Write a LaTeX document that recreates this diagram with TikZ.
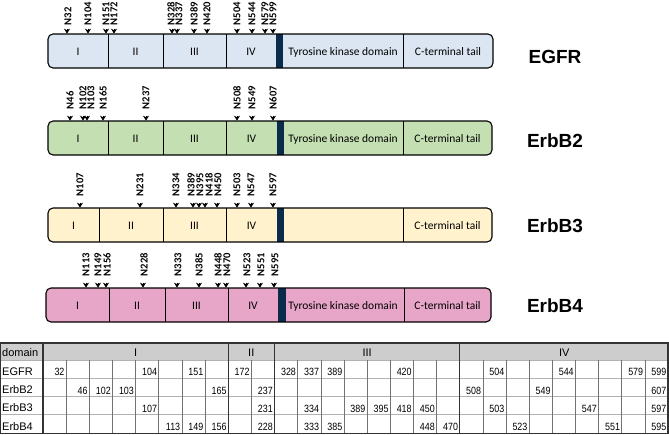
\documentclass[tikz,border=0pt]{standalone}
\usepackage{fontspec}
\setmainfont{Carlito}
\newfontfamily\arialfont{Liberation Sans}
\newfontfamily\narrowfont[FakeStretch=0.85]{Liberation Sans}
\usetikzlibrary{arrows.meta}

\definecolor{egfrblue}{HTML}{DCE6F2}
\definecolor{erbbtwo}{HTML}{C4DFB2}
\definecolor{erbbthree}{HTML}{FFF2CC}
\definecolor{erbbfour}{HTML}{E7A6C8}
\definecolor{tmnavy}{HTML}{0B2B4C}
\definecolor{headgray}{HTML}{CDCDCD}

\tikzset{
    domtext/.style={font=\fontsize{11.5}{12}\selectfont, inner sep=0pt, anchor=base},
    sitelabel/.style={font=\bfseries\fontsize{10.6}{10.6}\selectfont, rotate=90, anchor=west, inner sep=0pt},
    sitemark/.style={-{Stealth[length=5pt,width=6.2pt,inset=1.6pt]}, line width=0.9pt},
    protname/.style={font=\arialfont\bfseries\fontsize{19}{19}\selectfont, inner sep=0pt, anchor=base},
    tabtext/.style={font=\arialfont\fontsize{11}{11}\selectfont, inner sep=0pt},
    tabnum/.style={font=\narrowfont\fontsize{10.5}{10.5}\selectfont, inner sep=0pt, anchor=base east},
    cellline/.style={draw=black!55, line width=0.5pt},
    rowline/.style={draw=black!30, line width=0.9pt},
    edgeline/.style={draw=black!80, line width=1.3pt}
}

\begin{document}
\begin{tikzpicture}[x=1pt,y=-1pt]
    \useasboundingbox (0,0) rectangle (669,434);
    \def\cw{23.148}
    \foreach \nm/\col/\ty/\xa/\xb/\xc/\xd/\xe/\xf/\xg/\xh in {EGFR/egfrblue/34/48/108/163/226/276/283/403/493,
        ErbB2/erbbtwo/121/48/108/163/226/277/284/403/492, ErbB3/erbbthree/208/48/99/163/226/277/284/403/492,
        ErbB4/erbbfour/288/46/109/165/228/278/286/404/491}
    {
        \fill[\col, rounded corners=5pt] (\xa,\ty) rectangle (\xh,\ty+34);
        \fill[tmnavy] (\xe,\ty) rectangle (\xf,\ty+34);
        \foreach \xx in {\xb,\xc,\xd,\xg} { \draw[line width=0.9pt] (\xx,\ty) -- (\xx,\ty+34); }
        \draw[line width=1.1pt, rounded corners=5pt] (\xa,\ty) rectangle (\xh,\ty+34);
        \node[domtext] (\nm-I) at ({(\xa+\xb)/2},\ty+21) {I};
        \node[domtext] (\nm-II) at ({(\xb+\xc)/2},\ty+21) {II};
        \node[domtext] (\nm-III) at ({(\xc+\xd)/2},\ty+21) {III};
        \node[domtext] (\nm-IV) at ({(\xd+\xe)/2},\ty+21) {IV};
        \node[domtext] (\nm-tail) at ({(\xg+\xh)/2},\ty+21) {C-terminal tail};
    }
    \foreach \nm/\ty in {EGFR/34, ErbB2/121, ErbB4/288} { \node[domtext] (\nm-tk) at (343,\ty+21) {Tyrosine kinase domain}; }
    \foreach \nm/\by in {EGFR/63, ErbB2/147, ErbB3/232, ErbB4/312} { \node[protname] (\nm-name) at (555,\by) {\nm}; }

    \foreach \ax/\lx/\sn in {67/68/N32, 88/88/N104, 106/106/N151, 114/114/N172, 172/171/N328, 177/179/N337,
        194/194/N389, 207/207/N420, 237/237/N504, 252/252/N544, 265/265/N579, 273/273/N599}
    {
        \coordinate (egfr-\sn-a) at (\ax,28.5);
        \coordinate (egfr-\sn-b) at (\ax,33.6);
        \node[sitelabel] (egfr-\sn) at (\lx,25.5) {\sn};
        \draw[sitemark] (egfr-\sn-a) -- (egfr-\sn-b);
    }
    \foreach \ax/\lx/\sn in {70/70/N46, 83/83/N102, 87/91/N103, 103/103/N165, 146/146/N237, 237/237/N508,
        252/252/N549, 273/273/N607}
    {
        \coordinate (erbb2-\sn-a) at (\ax,115.5);
        \coordinate (erbb2-\sn-b) at (\ax,120.6);
        \node[sitelabel] (erbb2-\sn) at (\lx,109.5) {\sn};
        \draw[sitemark] (erbb2-\sn-a) -- (erbb2-\sn-b);
    }
    \foreach \ax/\lx/\sn in {80/80/N107, 140/140/N231, 176/176/N334, 193/191/N389, 199/200/N395, 205/209/N418,
        217/218/N450, 237/237/N503, 251/251/N547, 273/273/N597}
    {
        \coordinate (erbb3-\sn-a) at (\ax,202.5);
        \coordinate (erbb3-\sn-b) at (\ax,207.6);
        \node[sitelabel] (erbb3-\sn) at (\lx,196.5) {\sn};
        \draw[sitemark] (erbb3-\sn-a) -- (erbb3-\sn-b);
    }
    \foreach \ax/\lx/\sn in {86/86/N113, 98/98/N149, 106/107/N156, 143/144/N228, 177/178/N333, 199/199/N385,
        218/218/N448, 226/227/N470, 246/247/N523, 260/261/N551, 274/275/N595}
    {
        \coordinate (erbb4-\sn-a) at (\ax,282.5);
        \coordinate (erbb4-\sn-b) at (\ax,287.6);
        \node[sitelabel] (erbb4-\sn) at (\lx,276.5) {\sn};
        \draw[sitemark] (erbb4-\sn-a) -- (erbb4-\sn-b);
    }

    \fill[headgray] (0,343) rectangle (668,360);
    \foreach \ry in {360,378.3,396.6,414.9} { \draw[rowline] (0,\ry) -- (668,\ry); }
    \foreach \k in {1,...,26} { \draw[cellline] ({43+\k*\cw},360) -- ({43+\k*\cw},433.2); }
    \foreach \k in {0,8,10,18} { \draw[edgeline] ({43+\k*\cw},343) -- ({43+\k*\cw},433.2); }
    \draw[edgeline] (0.7,343) rectangle (668,433.2);
    \node[tabtext, anchor=base west] (hd-domain) at (2,356.5) {domain};
    \foreach \dn/\dx in {I/135.6, II/251.3, III/367.1, IV/564.2} { \node[tabtext, anchor=base] (hd-\dn) at (\dx,356.5) {\dn}; }
    \foreach \rn/\by in {EGFR/375.3, ErbB2/393.6, ErbB3/411.9, ErbB4/430.2} { \node[tabtext, anchor=base west] (row-\rn) at (2,\by) {\rn}; }
    \foreach \k/\v in {1/32, 5/104, 7/151, 9/172, 11/328, 12/337, 13/389, 16/420, 20/504, 23/544, 26/579, 27/599}
        { \node[tabnum] (egfr-c\k) at ({43+\k*\cw-1.5},375.8) {\v}; }
    \foreach \k/\v in {2/46, 3/102, 4/103, 8/165, 10/237, 19/508, 22/549, 27/607}
        { \node[tabnum] (erbb2-c\k) at ({43+\k*\cw-1.5},394.1) {\v}; }
    \foreach \k/\v in {5/107, 10/231, 12/334, 14/389, 15/395, 16/418, 17/450, 20/503, 24/547, 27/597}
        { \node[tabnum] (erbb3-c\k) at ({43+\k*\cw-1.5},412.4) {\v}; }
    \foreach \k/\v in {6/113, 7/149, 8/156, 10/228, 12/333, 13/385, 17/448, 18/470, 21/523, 25/551, 27/595}
        { \node[tabnum] (erbb4-c\k) at ({43+\k*\cw-1.5},430.7) {\v}; }
\end{tikzpicture}
\end{document}
